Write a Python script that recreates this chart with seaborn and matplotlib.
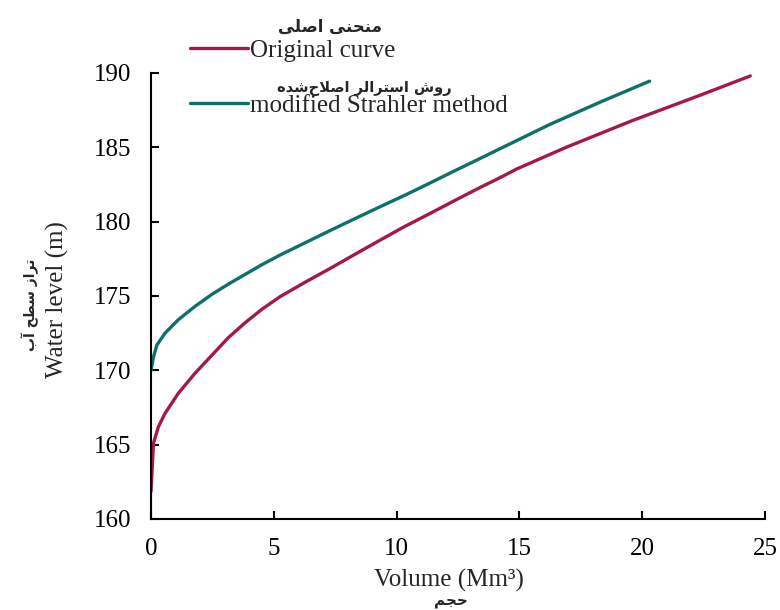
import matplotlib
matplotlib.use("Agg")
import matplotlib.pyplot as plt
import seaborn as sns
import pandas as pd

# ---------------- data ----------------
orig_volume = [0, 0.0, 0.1, 0.3, 0.57, 1.11, 1.79, 2.47, 3.15, 3.83, 4.51, 5.25,
               6.3, 7.29, 8.3, 9.32, 10.3, 11.36, 12.4, 13.4, 14.2, 14.9, 16.9,
               19.6, 22.35, 24.4]
orig_level = [160, 163.7, 165.1, 166.2, 167.1, 168.45, 169.8, 171.0, 172.2, 173.2,
              174.1, 174.95, 175.95, 176.85, 177.8, 178.75, 179.65, 180.55, 181.45,
              182.3, 182.95, 183.55, 185.0, 186.8, 188.5, 189.8]
mod_volume = [0, 0.1, 0.24, 0.57, 1.11, 1.79, 2.47, 3.15, 3.83, 4.51, 5.25, 6.3,
              7.29, 8.3, 9.32, 10.3, 11.36, 12.4, 13.4, 14.2, 14.7, 16.25, 18.3,
              20.3]
mod_level = [170.0, 170.9, 171.7, 172.5, 173.4, 174.3, 175.1, 175.8, 176.45, 177.1,
             177.75, 178.6, 179.4, 180.2, 181.0, 181.75, 182.6, 183.45, 184.25,
             184.9, 185.3, 186.55, 188.05, 189.45]

x_ticks = [0, 5, 10, 15, 20, 25]
y_ticks = [160, 165, 170, 175, 180, 185, 190]

label_orig_en = "Original curve"
label_orig_fa = "منحنی اصلی"
label_mod_en = "modified Strahler method"
label_mod_fa = "روش استرالر اصلاح\u200cشده"
xlabel_en = "Volume (Mm³)"
xlabel_fa = "حجم"
ylabel_en = "Water level (m)"
ylabel_fa = "تراز سطح آب"

red = "#A3194C"
teal = "#0F6F6B"

# ---------------- simple Arabic/Persian shaping ----------------
FORMS = {  # isolated, final, initial, medial
    "ا": (0xFE8D, 0xFE8E, None, None),
    "آ": (0xFE81, 0xFE82, None, None),
    "ب": (0xFE8F, 0xFE90, 0xFE91, 0xFE92),
    "ت": (0xFE95, 0xFE96, 0xFE97, 0xFE98),
    "ج": (0xFE9D, 0xFE9E, 0xFE9F, 0xFEA0),
    "ح": (0xFEA1, 0xFEA2, 0xFEA3, 0xFEA4),
    "د": (0xFEA9, 0xFEAA, None, None),
    "ر": (0xFEAD, 0xFEAE, None, None),
    "ز": (0xFEAF, 0xFEB0, None, None),
    "س": (0xFEB1, 0xFEB2, 0xFEB3, 0xFEB4),
    "ش": (0xFEB5, 0xFEB6, 0xFEB7, 0xFEB8),
    "ص": (0xFEB9, 0xFEBA, 0xFEBB, 0xFEBC),
    "ط": (0xFEC1, 0xFEC2, 0xFEC3, 0xFEC4),
    "ل": (0xFEDD, 0xFEDE, 0xFEDF, 0xFEE0),
    "م": (0xFEE1, 0xFEE2, 0xFEE3, 0xFEE4),
    "ن": (0xFEE5, 0xFEE6, 0xFEE7, 0xFEE8),
    "ه": (0xFEE9, 0xFEEA, 0xFEEB, 0xFEEC),
    "و": (0xFEED, 0xFEEE, None, None),
    "ی": (0xFEEF, 0xFEF0, 0xFEF3, 0xFEF4),
}


def dual(c):
    return c in FORMS and FORMS[c][2] is not None


def shape(text):
    out = []
    chars = list(text)
    i = 0
    n = len(chars)
    while i < n:
        c = chars[i]
        if c not in FORMS:
            if c != "\u200c":
                out.append(c)
            i += 1
            continue
        prev = chars[i - 1] if i > 0 else None
        join_prev = prev is not None and dual(prev)
        if c == "ل" and i + 1 < n and chars[i + 1] in ("ا", "آ"):
            if chars[i + 1] == "ا":
                out.append(chr(0xFEFC if join_prev else 0xFEFB))
            else:
                out.append(chr(0xFEF6 if join_prev else 0xFEF5))
            i += 2
            continue
        nxt = chars[i + 1] if i + 1 < n else None
        join_next = dual(c) and nxt is not None and nxt in FORMS
        iso, fin, ini, med = FORMS[c]
        if join_prev and join_next:
            g = med
        elif join_prev:
            g = fin
        elif join_next:
            g = ini
        else:
            g = iso
        out.append(chr(g))
        i += 1
    return "".join(reversed(out))


# ---------------- plot ----------------
sns.set_style("ticks")
plt.rcParams["font.family"] = ["Liberation Serif", "DejaVu Sans"]
plt.rcParams["font.size"] = 18

fig = plt.figure(figsize=(7.8, 6.1), dpi=100)
ax = fig.add_axes([151 / 780, 1 - 519 / 610, (765 - 151) / 780, (519 - 73) / 610])

df_o = pd.DataFrame({"Volume": orig_volume, "Level": orig_level})
df_m = pd.DataFrame({"Volume": mod_volume, "Level": mod_level})
sns.lineplot(data=df_o, x="Volume", y="Level", ax=ax, color=red, lw=2.4,
             sort=False, label=label_orig_en)
sns.lineplot(data=df_m, x="Volume", y="Level", ax=ax, color=teal, lw=2.4,
             sort=False, label=label_mod_en)
for ln in ax.lines:
    ln.set_solid_joinstyle("round")
    ln.set_solid_capstyle("round")

ax.set_xlim(0, 25)
ax.set_ylim(160, 190)
ax.set_xticks(x_ticks)
ax.set_yticks(y_ticks)
ax.tick_params(direction="in", length=6, width=1.5, labelsize=18, colors="black",
               pad=14)
for s in ["left", "bottom"]:
    ax.spines[s].set_linewidth(1.5)
    ax.spines[s].set_color("black")
sns.despine(ax=ax)
ax.set_xlabel("")
ax.set_ylabel("")

leg = ax.legend(loc="upper left", bbox_to_anchor=(190 / 780, 1 - 39 / 610),
                bbox_transform=fig.transFigure, frameon=False, fontsize=18,
                handlelength=2.3, handletextpad=0.1, labelspacing=1.32,
                borderpad=0, borderaxespad=0)

fa_font = dict(family="DejaVu Sans", fontweight="bold")
fig.text(330 / 780, 1 - 27 / 610, shape(label_orig_fa), ha="center", va="center",
         fontsize=12, **fa_font)
fig.text(364 / 780, 1 - 88 / 610, shape(label_mod_fa), ha="center", va="center",
         fontsize=10.5, **fa_font)

fig.text(449 / 780, 1 - 580 / 610, xlabel_en, ha="center", va="center", fontsize=18)
fig.text(451 / 780, 1 - 601 / 610, shape(xlabel_fa), ha="center", va="center",
         fontsize=11, **fa_font)
fig.text(57 / 780, 1 - 300 / 610, ylabel_en, ha="center", va="center", rotation=90, fontsize=18)
fig.text(30 / 780, 1 - 305 / 610, shape(ylabel_fa), ha="center", va="center", rotation=90,
         fontsize=10, **fa_font)

fig.savefig("out.png", dpi=100)
